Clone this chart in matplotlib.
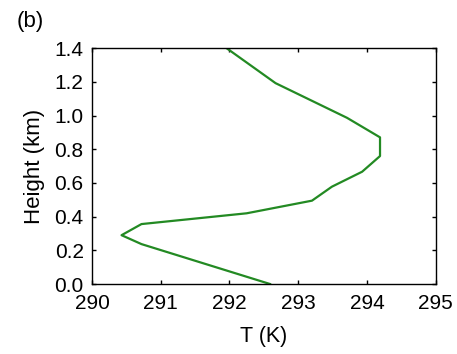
import numpy as np
import matplotlib
matplotlib.use('Agg')
import matplotlib.pyplot as plt

plt.rcParams['font.family'] = ['Liberation Sans', 'DejaVu Sans']

# temperature profile (K) vs height (km)
temp = [292.59, 290.72, 290.43, 290.72, 292.25, 293.20, 293.49, 293.93,
        294.19, 294.19, 293.71, 292.67, 291.96]
height = [0.0, 0.237, 0.29, 0.356, 0.42, 0.495, 0.578, 0.667,
          0.76, 0.871, 0.987, 1.193, 1.40]

xticks = [290, 291, 292, 293, 294, 295]
yticks = [0.0, 0.2, 0.4, 0.6, 0.8, 1.0, 1.2, 1.4]

fig = plt.figure(figsize=(4.57, 3.54), dpi=100)
ax = fig.add_axes([0.2013, 0.1977, 0.7521, 0.6659])

ax.plot(temp, height, color='#238a23', lw=1.6)

ax.set_xlim(290, 295)
ax.set_ylim(0, 1.4)
ax.set_xticks(xticks)
ax.set_yticks(yticks)
ax.set_yticklabels(['%.1f' % v for v in yticks])
ax.tick_params(direction='in', length=3, width=1, top=True, right=True,
               labelsize=15, pad=6)
ax.tick_params(axis='x', pad=7.5)
for s in ax.spines.values():
    s.set_linewidth(1.0)

ax.set_xlabel('T (K)', fontsize=15.5, labelpad=9)
ax.set_ylabel('Height (km)', fontsize=16, labelpad=7)
fig.text(0.037, 0.94, '(b)', fontsize=16, ha='left', va='center')

fig.savefig('out.png', dpi=100)
